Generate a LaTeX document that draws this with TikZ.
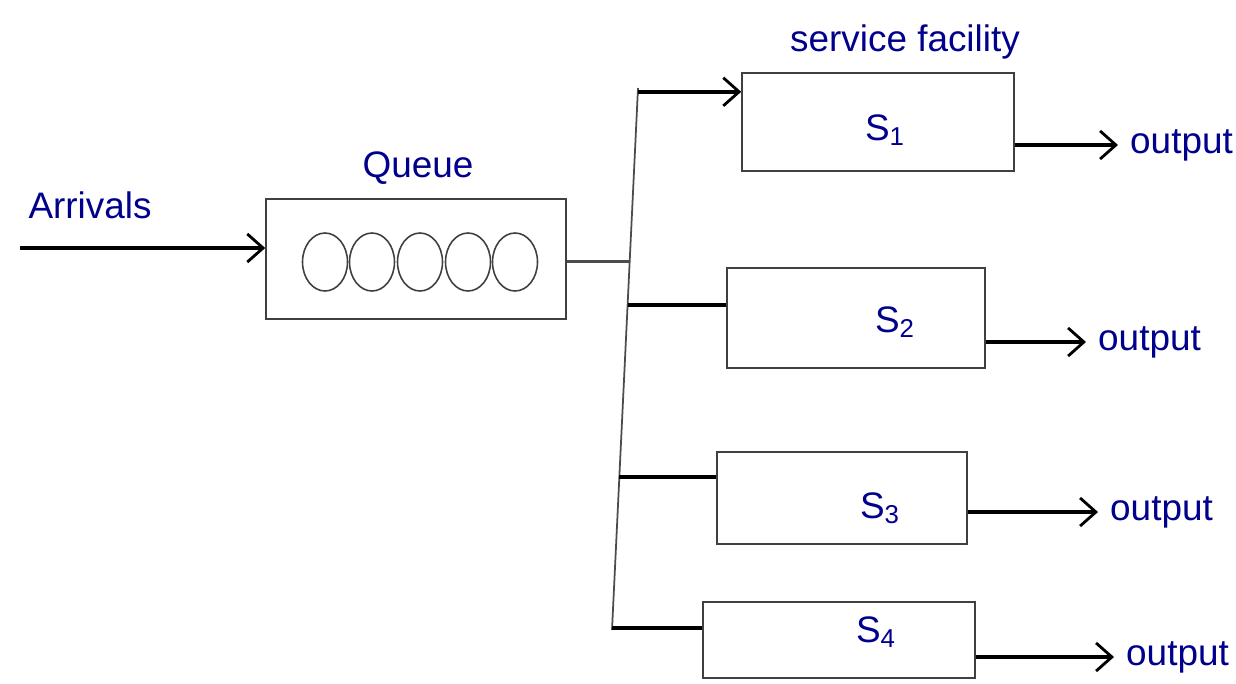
\documentclass[tikz,border=0pt]{standalone}
\usepackage{fontspec}
\setmainfont{Liberation Sans}
\usetikzlibrary{arrows.meta, positioning, calc, shapes.geometric}

\begin{document}
\begin{tikzpicture}[x=0.02cm, y=-0.02cm,
		box/.style={rectangle, draw=black!75, line width=0.9pt, inner sep=0pt},
		ball/.style={ellipse, draw=black!75, line width=0.9pt, inner sep=0pt},
		hand/.style={text=blue!55!black, font=\fontsize{21}{25}\selectfont},
		trunk/.style={draw=black!70, line width=1pt},
		feed/.style={draw=black, line width=2.4pt},
		arrow/.style={-{Straight Barb[length=9pt, width=16pt, line width=1.6pt]}, draw=black, line width=2.2pt},
		]
		\useasboundingbox (0,0) rectangle (1236,683);

		% Queue
		\node[box, minimum width=300*0.02cm, minimum height=120*0.02cm] (queue) at (416,259) {};
		\node[hand] (queuelab) at (418,168) {Queue};
		\foreach \i/\x in {1/325, 2/372, 3/420, 4/468, 5/515}
			\node[ball, minimum width=45*0.02cm, minimum height=58*0.02cm] (c\i) at (\x,262) {};

		% Arrivals
		\node[hand] (arrlab) at (90,205) {Arrivals};
		\coordinate (src) at (20,248);
		\draw[arrow] (src) -- (src -| queue.west);

		% Service facility
		\node[hand] (faclab) at (905,42) {service facility};
		\node[box, minimum width=272*0.02cm, minimum height=98*0.02cm] (s1) at (878,122) {};
		\node[box, minimum width=258*0.02cm, minimum height=100*0.02cm] (s2) at (856,318) {};
		\node[box, minimum width=250*0.02cm, minimum height=92*0.02cm] (s3) at (842,498) {};
		\node[box, minimum width=272*0.02cm, minimum height=76*0.02cm] (s4) at (839,640) {};
		\node[hand] (s1lab) at (885,130) {S\textsubscript{1}};
		\node[hand] (s2lab) at (895,322) {S\textsubscript{2}};
		\node[hand] (s3lab) at (880,508) {S\textsubscript{3}};
		\node[hand] (s4lab) at (876,632) {S\textsubscript{4}};

		% Trunk and branches
		\coordinate (top) at (638,88);
		\coordinate (bot) at (612,630);
		\coordinate (jq) at ($(top)!0.32!(bot)$);
		\coordinate (j1) at ($(top)!0.007!(bot)$);
		\coordinate (j2) at ($(top)!0.4!(bot)$);
		\coordinate (j3) at ($(top)!0.717!(bot)$);
		\coordinate (j4) at ($(top)!0.996!(bot)$);
		\draw[trunk] (top) -- (bot);
		\draw[trunk, line width=1.4pt] (queue.east |- jq) -- (jq);
		\draw[arrow] (j1) -- (j1 -| s1.west);
		\draw[feed] (j2) -- (j2 -| s2.west);
		\draw[feed] (j3) -- (j3 -| s3.west);
		\draw[feed] (j4) -- (j4 -| s4.west);

		% Outputs
		\node[hand, anchor=west] (o1) at (1124,145) {output};
		\node[hand, anchor=west] (o2) at (1092,342) {output};
		\node[hand, anchor=west] (o3) at (1104,512) {output};
		\node[hand, anchor=west] (o4) at (1120,657) {output};
		\draw[arrow] (s1.east |- o1) -- ($(o1.west)+(-6,0)$);
		\draw[arrow] (s2.east |- o2) -- ($(o2.west)+(-6,0)$);
		\draw[arrow] (s3.east |- o3) -- ($(o3.west)+(-6,0)$);
		\draw[arrow] (s4.east |- o4) -- ($(o4.west)+(-6,0)$);
	\end{tikzpicture}
\end{document}
